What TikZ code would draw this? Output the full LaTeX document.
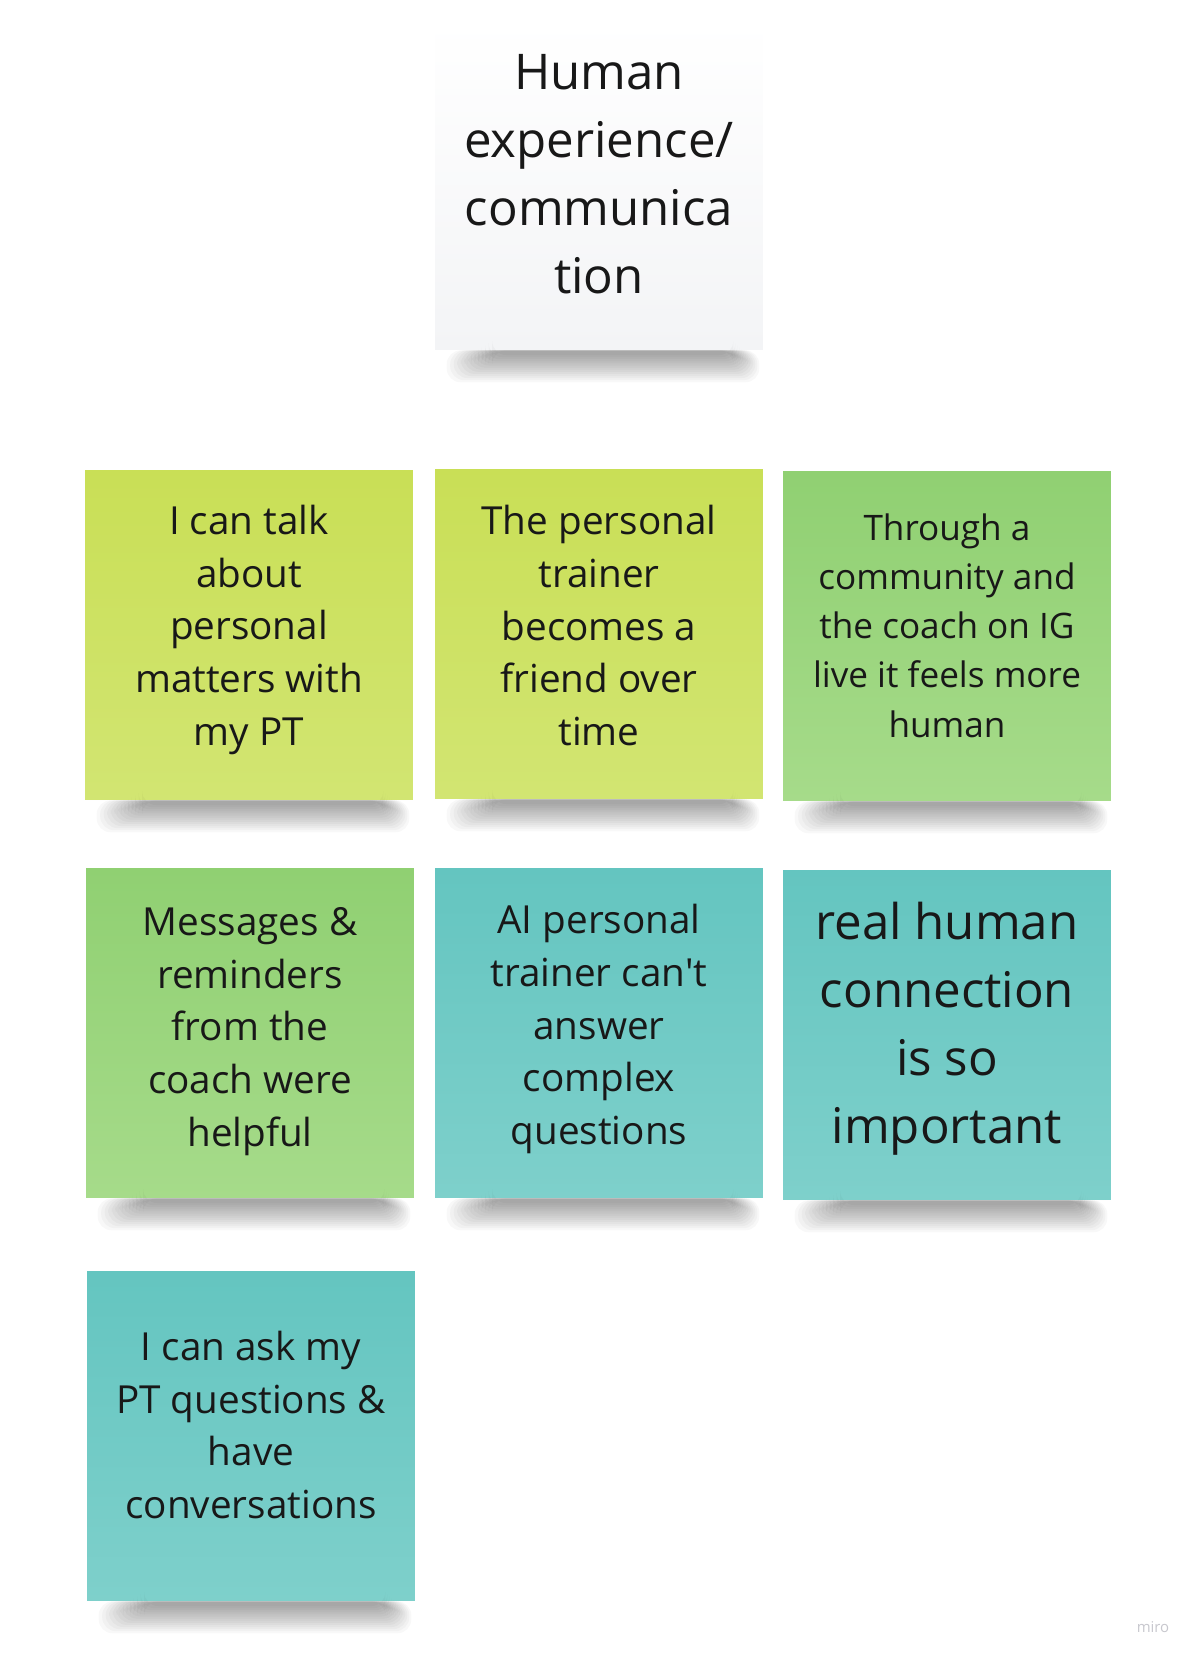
\documentclass[tikz,border=0pt]{standalone}
\usepackage{fontspec}
\setmainfont{Open Sans}
\usetikzlibrary{calc,positioning}
\definecolor{stickywhite}{RGB}{243,244,246}
\definecolor{stickylime}{RGB}{201,223,86}
\definecolor{stickylimelight}{RGB}{210,229,114}
\definecolor{stickygreen}{RGB}{144,208,114}
\definecolor{stickygreenlight}{RGB}{166,219,138}
\definecolor{stickyteal}{RGB}{100,197,192}
\definecolor{stickytealight}{RGB}{126,208,203}
\definecolor{stickytext}{RGB}{24,24,24}
\definecolor{mirogray}{RGB}{200,200,206}
\newcommand{\stickyshadow}[1]{%
  \foreach \k in {0,...,13} {
    \fill[black, opacity=0.026, rounded corners=8]
      ($(#1.south west)+(12+\k*3.5, 0)$) rectangle ($(#1.south east)+(-4-\k*2, 32-\k*2.1)$);
  }
}

\begin{document}
\begin{tikzpicture}[x=0.02cm, y=-0.02cm,
  sticky/.style={rectangle, minimum width=6.56cm, minimum height=6.6cm, inner sep=0pt},
  notetext/.style={align=center, text=stickytext, inner sep=0pt},
  notesmall/.style={notetext, font=\fontsize{22}{30}\selectfont},
  notebig/.style={notetext, font=\fontsize{28}{38.7}\selectfont}]
    \useasboundingbox[fill=white] (0,0) rectangle (1200,1662);

    % Header note
    \node[sticky, top color=white, bottom color=stickywhite,
          label={[notebig, name=title-text, yshift=6pt]center:{Human\\experience/\\communica\\tion}}] (title) at (599,185) {};

    % First row
    \node[sticky, top color=stickylime, bottom color=stickylimelight,
          label={[notesmall, name=talk-text, yshift=3pt]center:{I can talk\\about\\personal\\matters with\\my PT}}] (talk) at (249,635) {};
    \node[sticky, top color=stickylime, bottom color=stickylimelight,
          label={[notesmall, name=friend-text, yshift=4.7pt]center:{The personal\\trainer\\becomes a\\friend over\\time}}] (friend) at (599,634) {};
    \node[sticky, top color=stickygreen, bottom color=stickygreenlight,
          label={[notetext, font=\fontsize{20}{28}\selectfont, name=community-text, yshift=6pt]center:{Through a\\community and\\the coach on IG\\live it feels more\\human}}] (community) at (947,636) {};

    % Second row
    \node[sticky, top color=stickygreen, bottom color=stickygreenlight,
          label={[notesmall, name=messages-text, yshift=0.8pt]center:{Messages \&\\reminders\\from the\\coach were\\helpful}}] (messages) at (250,1033) {};
    \node[sticky, top color=stickyteal, bottom color=stickytealight,
          label={[notesmall, name=aitrainer-text, yshift=2.2pt]center:{AI personal\\trainer can\textquotesingle t\\answer\\complex\\questions}}] (aitrainer) at (599,1033) {};
    \node[sticky, top color=stickyteal, bottom color=stickytealight,
          label={[notebig, name=connection-text, yshift=3.5pt]center:{real human\\connection\\is so\\important}}] (connection) at (947,1035) {};

    % Third row
    \node[sticky, top color=stickyteal, bottom color=stickytealight,
          label={[notesmall, name=askpt-text, yshift=6.3pt]center:{I can ask my\\PT questions \&\\have\\conversations}}] (askpt) at (251,1436) {};

    % Shadows under the notes
    \foreach \n in {title,talk,friend,community,messages,aitrainer,connection,askpt} {
        \stickyshadow{\n}
    }

    \node[text=mirogray, font=\fontsize{8.5}{10}\selectfont] (miro) at (1153,1627) {miro};
\end{tikzpicture}
\end{document}
